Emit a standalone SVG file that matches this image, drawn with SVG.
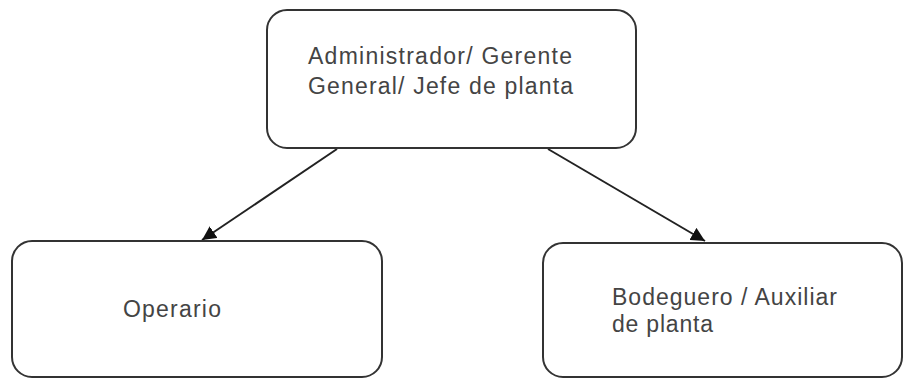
<svg xmlns="http://www.w3.org/2000/svg" width="904" height="379" viewBox="0 0 904 379">
<defs>
<style>
.box{fill:#fff;stroke:#333;stroke-width:2}
.lbl{font-family:"Liberation Sans",Arial,sans-serif;font-size:23px;fill:#444}
.conn{stroke:#222;stroke-width:2;fill:none}
</style>
<marker id="arr" viewBox="0 0 10 10" refX="10" refY="5" markerWidth="14" markerHeight="14" markerUnits="userSpaceOnUse" orient="auto">
<path d="M0,0 L10,5 L0,10 Z" fill="#111"/>
</marker>
</defs>
<rect width="904" height="379" fill="#fff"/>
<g id="connectors">
<line class="conn" x1="337" y1="149" x2="202" y2="240" marker-end="url(#arr)"/>
<line class="conn" x1="548" y1="149" x2="705" y2="241" marker-end="url(#arr)"/>
</g>
<g id="node-admin">
<rect class="box" x="267" y="10" width="369" height="138" rx="20" ry="20"/>
<text class="lbl" x="308" y="64" textLength="264" lengthAdjust="spacing">Administrador/ Gerente</text>
<text class="lbl" x="308" y="94" textLength="265" lengthAdjust="spacing">General/ Jefe de planta</text>
</g>
<g id="node-operario">
<rect class="box" x="12" y="241" width="370" height="136" rx="20" ry="20"/>
<text class="lbl" x="123" y="317" textLength="98" lengthAdjust="spacing">Operario</text>
</g>
<g id="node-bodeguero">
<rect class="box" x="543" y="243" width="359" height="134" rx="20" ry="20"/>
<text class="lbl" x="612" y="305" textLength="225" lengthAdjust="spacing">Bodeguero / Auxiliar</text>
<text class="lbl" x="612" y="332" textLength="101" lengthAdjust="spacing">de planta</text>
</g>
</svg>
